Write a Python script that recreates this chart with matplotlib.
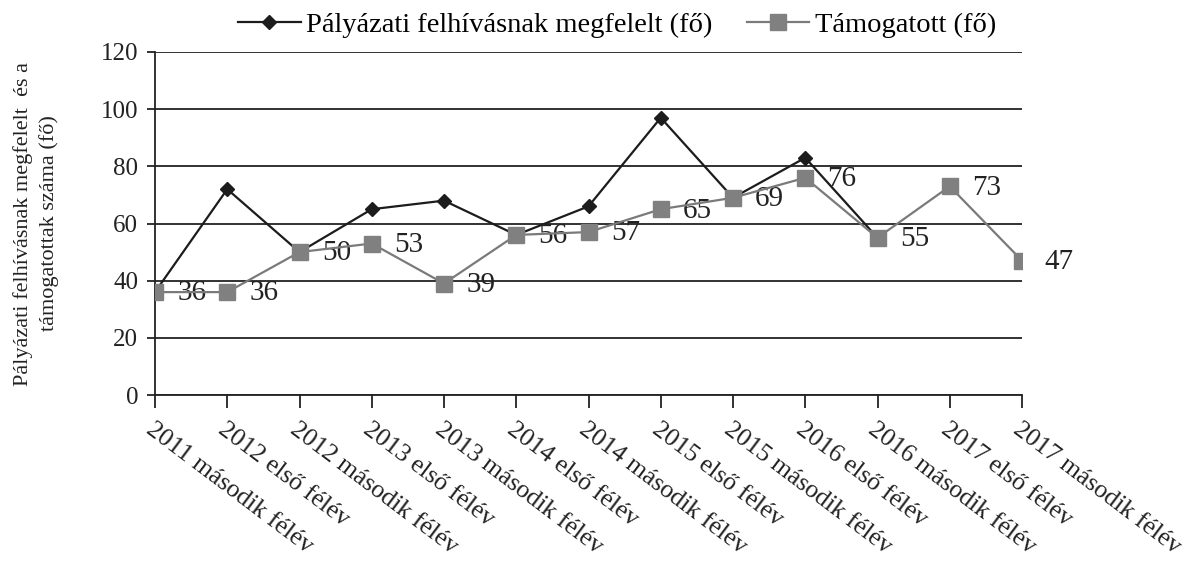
import numpy as np
import matplotlib
matplotlib.use("Agg")
import matplotlib.pyplot as plt
import matplotlib.transforms as mtransforms

# periods on the x axis
periods = [
    "2011 második félév", "2012 első félév", "2012 második félév",
    "2013 első félév", "2013 második félév", "2014 első félév",
    "2014 második félév", "2015 első félév", "2015 második félév",
    "2016 első félév", "2016 második félév", "2017 első félév",
    "2017 második félév",
]
# applicants meeting the call requirements (ends at 2016 második félév)
eligible = [36, 72, 50, 65, 68, 56, 66, 97, 69, 83, 55, np.nan, np.nan]
# supported applicants
supported = [36, 36, 50, 53, 39, 56, 57, 65, 69, 76, 55, 73, 47]

yticks = [0, 20, 40, 60, 80, 100, 120]

plt.rcParams["font.family"] = "Liberation Serif"
ink = "#222222"

fig = plt.figure(figsize=(11.88, 5.65), dpi=100)
ax = fig.add_axes([155 / 1188, 1 - 395 / 565, (1022 - 155) / 1188, (395 - 52) / 565])

x = np.arange(len(periods))
ax.plot(x, eligible, color="#1c1c1c", marker="D", markersize=7, lw=1.6,
        label="Pályázati felhívásnak megfelelt (fő)", zorder=3)
ax.plot(x, supported, color="#7a7a7a", marker="s", markersize=11, lw=1.6,
        markerfacecolor="#808080", markeredgecolor="#808080",
        label="Támogatott (fő)", zorder=4)

# data labels only for the supported series
for xi, v in zip(x, supported):
    ax.annotate(str(v), (xi, v), xytext=(16, -1), textcoords="offset points",
                ha="left", va="center", fontsize=21, color=ink)

ax.set_xlim(0, len(periods) - 1)
ax.set_ylim(0, 120)
ax.set_yticks(yticks)
ax.yaxis.grid(True, color=ink, lw=1.3)
ax.set_axisbelow(True)
for s in ["top", "right"]:
    ax.spines[s].set_visible(False)
for s in ["left", "bottom"]:
    ax.spines[s].set_color(ink)
    ax.spines[s].set_linewidth(1.3)

ax.set_xticks(x)
ax.set_xticklabels(periods, rotation=-37, ha="left", va="top",
                   rotation_mode="anchor", fontsize=18.5, color=ink)
shift = mtransforms.ScaledTranslation(9 / 100, 0, fig.dpi_scale_trans)
for lbl in ax.get_xticklabels():
    lbl.set_transform(lbl.get_transform() + shift)
ax.tick_params(axis="x", length=9, width=1.3, pad=8, color=ink)
ax.tick_params(axis="y", length=6, width=1.3, pad=6, labelsize=18,
               color=ink, labelcolor=ink)

ax.set_ylabel("Pályázati felhívásnak megfelelt  és a\ntámogatottak száma (fő)",
              fontsize=16, color=ink, labelpad=30, linespacing=1.4)

ax.legend(loc="lower center", bbox_to_anchor=(0.533, 1.0), ncol=2,
          frameon=False, fontsize=20.5, handlelength=2.2, handletextpad=0.2,
          columnspacing=1.2, borderaxespad=0.1)

fig.savefig("out.png", dpi=100)
